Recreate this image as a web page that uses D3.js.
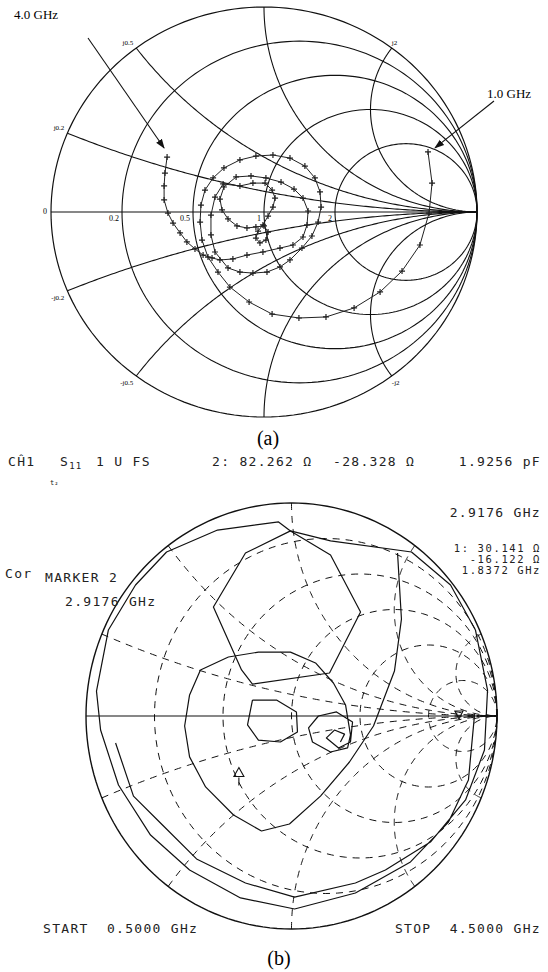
<!DOCTYPE html>
<html><head><meta charset="utf-8">
<script src="https://cdn.jsdelivr.net/npm/d3@7"></script>
<style>body{margin:0;background:#fff}svg{display:block}</style>
</head><body>
<script>
// ---------- (a) printed Smith chart ----------
const gridResA = [0.2, 0.5, 1, 2];
const gridReacA = [0.2, 0.5, 1, 2];
const resLabelsA = ["0.2", "0.5", "1", "2"];
const reacLabelsA = ["j0.2", "j0.5", "j2", "-j0.2", "-j0.5", "-j2"];
const reacLabelValsA = [0.2, 0.5, 2, -0.2, -0.5, -2];
// reflection coefficient, 1.0 GHz -> 4.0 GHz
const traceARe = [0.770,0.789,0.775,0.732,0.648,0.545,0.423,0.291,0.164,0.038,-0.070,-0.160,-0.216,-0.263,-0.291,-0.300,-0.296,-0.277,-0.239,-0.188,-0.113,-0.038,0.042,0.122,0.192,0.239,0.263,0.268,0.254,0.225,0.178,0.122,0.075,0.014,-0.052,-0.113,-0.169,-0.230,-0.249,-0.249,-0.230,-0.192,-0.113,-0.052,0.005,0.038,0.052,0.042,0.019,-0.005,-0.028,-0.038,-0.019,0.009,0.019,0.000,-0.038,-0.080,-0.127,-0.169,-0.197,-0.207,-0.188,-0.131,-0.061,0.009,0.080,0.141,0.183,0.207,0.202,0.183,0.136,0.075,-0.005,-0.080,-0.146,-0.207,-0.244,-0.286,-0.324,-0.362,-0.394,-0.427,-0.451,-0.469,-0.469,-0.465,-0.455];
const traceAIm = [0.293,0.141,-0.005,-0.161,-0.288,-0.390,-0.468,-0.512,-0.517,-0.498,-0.439,-0.366,-0.293,-0.220,-0.137,-0.049,0.034,0.107,0.166,0.215,0.254,0.273,0.278,0.263,0.224,0.166,0.098,0.024,-0.049,-0.117,-0.176,-0.234,-0.268,-0.293,-0.298,-0.293,-0.273,-0.195,-0.112,-0.015,0.073,0.137,0.127,0.141,0.141,0.107,0.068,0.024,-0.020,-0.063,-0.093,-0.127,-0.151,-0.137,-0.098,-0.068,-0.073,-0.078,-0.068,-0.034,0.010,0.063,0.122,0.171,0.176,0.166,0.146,0.112,0.068,0.005,-0.063,-0.122,-0.161,-0.176,-0.195,-0.210,-0.229,-0.234,-0.224,-0.210,-0.180,-0.146,-0.102,-0.054,-0.005,0.059,0.127,0.190,0.268];
const freqLabelsA = ["1.0 GHz", "4.0 GHz"];

// ---------- (b) analyzer display, 0.5 - 4.5 GHz ----------
const gridResB = [0.2, 0.5, 1, 2, 5];
const gridReacB = [0.2, 0.5, 1, 2, 5];
// outer laps near the rim
const lapBRe = [0.891,0.861,0.764,0.579,0.311,0.015,-0.248,-0.496,-0.686,-0.842,-0.929,-0.949,-0.891,-0.759,-0.608,-0.360,-0.063,-0.005,0.190,0.584,0.774,0.895,0.954,0.939,0.847,0.676,0.457,0.311,0.015,-0.224,-0.462,-0.618,-0.769,-0.856];
const lapBIm = [0.009,-0.300,-0.498,-0.685,-0.831,-0.906,-0.854,-0.723,-0.559,-0.324,-0.066,0.117,0.404,0.615,0.770,0.873,0.911,0.869,0.822,0.770,0.615,0.404,0.122,-0.160,-0.394,-0.592,-0.723,-0.784,-0.850,-0.784,-0.671,-0.521,-0.376,-0.127];
// loop hanging from the top vertex
const loopBRe = [-0.005,-0.224,-0.380,-0.243,-0.190,0.185,0.336,0.190,-0.005];
const loopBIm = [0.869,0.765,0.512,0.216,0.150,0.202,0.488,0.756,0.869];
// inner loops around the centre
const coreBRe = [0.516,0.535,0.501,0.399,0.282,0.141,-0.010,-0.146,-0.282,-0.418,-0.496,-0.520,-0.496,-0.443,-0.307,-0.161,-0.005,0.117,0.204,0.263,0.287,0.273,0.190,0.102,0.083,0.131,0.219,0.297,0.287,0.229,0.170,0.209,0.258,0.238];
const coreBIm = [0.765,0.455,0.211,-0.047,-0.216,-0.376,-0.507,-0.540,-0.465,-0.333,-0.192,-0.047,0.099,0.216,0.277,0.300,0.300,0.249,0.155,0.052,-0.089,-0.150,-0.169,-0.122,-0.056,0.000,0.019,-0.028,-0.122,-0.150,-0.103,-0.066,-0.085,-0.122];
const centreBRe = [-0.190,-0.073,0.024,0.029,-0.054,-0.161,-0.214,-0.190];
const centreBIm = [0.075,0.075,0.019,-0.075,-0.122,-0.113,-0.042,0.075];

const W = 548, H = 972;
const svg = d3.select("body").append("svg").attr("width", W).attr("height", H)
  .style("font-family", "'Liberation Serif', serif");

// impedance -> reflection coefficient
function gamma(r, x) {
  const den = (r + 1) * (r + 1) + x * x;
  return [(r * r + x * x - 1) / den, (2 * x) / den];
}
function resCircle(r) {
  const c = r / (1 + r), rad = 1 / (1 + r);
  return d3.range(0, 361, 2).map(a => [c + rad * Math.cos(a * Math.PI / 180), rad * Math.sin(a * Math.PI / 180)]);
}
function reacArc(x) {
  return d3.range(0, 90, 0.5).map(a => gamma(Math.tan(a * Math.PI / 180), x)).concat([[1, 0]]);
}

function smith(g, sx, sy, opt) {
  const line = d3.line().x(d => sx(d[0])).y(d => sy(d[1]));
  g.append("path").attr("d", line(resCircle(0))).attr("fill", "none")
    .attr("stroke", "#111").attr("stroke-width", opt.outerW);
  opt.res.forEach(r => g.append("path").attr("d", line(resCircle(r)))
    .attr("fill", "none").attr("stroke", "#111").attr("stroke-width", opt.w)
    .attr("stroke-dasharray", opt.dash));
  opt.reac.forEach(x => [x, -x].forEach(v => g.append("path").attr("d", line(reacArc(v)))
    .attr("fill", "none").attr("stroke", "#111").attr("stroke-width", opt.w)
    .attr("stroke-dasharray", opt.dash)));
  g.append("line").attr("x1", sx(-1)).attr("x2", sx(1)).attr("y1", sy(0)).attr("y2", sy(0))
    .attr("stroke", "#111").attr("stroke-width", opt.axisW);
  return line;
}

// ---- chart (a)
const sxA = d3.scaleLinear().domain([-1, 1]).range([51, 477]);
const syA = d3.scaleLinear().domain([-1, 1]).range([417, 7]);
const gA = svg.append("g");
const lineA = smith(gA, sxA, syA, {res: gridResA, reac: gridReacA, w: 1.1, outerW: 1.2, axisW: 1.1, dash: null});

gA.append("text").attr("x", sxA(-1) - 4).attr("y", syA(0) + 2).attr("text-anchor", "end")
  .attr("font-size", 8).text("0");
gridResA.forEach((r, i) => {
  gA.append("text").attr("x", sxA((r - 1) / (r + 1)) - 3).attr("y", syA(0) + 9)
    .attr("text-anchor", "end").attr("font-size", 8).text(resLabelsA[i]);
});
reacLabelValsA.forEach((x, i) => {
  const p = gamma(0, x);
  const left = p[0] < 0;
  gA.append("text").attr("x", sxA(p[0]) + (left ? -3 : 0))
    .attr("y", syA(p[1]) + (x > 0 ? -3 : 9))
    .attr("text-anchor", left ? "end" : "start").attr("font-size", 7).text(reacLabelsA[i]);
});

const ptsA = traceARe.map((v, i) => [v, traceAIm[i]]);
gA.append("path").attr("d", lineA(ptsA)).attr("fill", "none").attr("stroke", "#222").attr("stroke-width", 1);
gA.selectAll("path.mk").data(ptsA).join("path").attr("class", "mk")
  .attr("transform", d => `translate(${sxA(d[0])},${syA(d[1])})`)
  .attr("d", "M-3,0H3M0,-3V3").attr("stroke", "#222").attr("stroke-width", 1.2);

// frequency call-outs
svg.append("defs").append("marker").attr("id", "ah").attr("viewBox", "0 0 10 10")
  .attr("refX", 9).attr("refY", 5).attr("markerWidth", 9).attr("markerHeight", 9)
  .attr("orient", "auto").append("path").attr("d", "M0,1.5L10,5L0,8.5Z").attr("fill", "#111");
const p4 = ptsA[ptsA.length - 1], p1 = ptsA[0];
gA.append("line").attr("x1", 88).attr("y1", 38).attr("x2", sxA(p4[0]) - 3).attr("y2", syA(p4[1]) - 9)
  .attr("stroke", "#111").attr("stroke-width", 1.1).attr("marker-end", "url(#ah)");
gA.append("line").attr("x1", 494).attr("y1", 101).attr("x2", sxA(p1[0]) + 7).attr("y2", syA(p1[1]) - 4)
  .attr("stroke", "#111").attr("stroke-width", 1.1).attr("marker-end", "url(#ah)");
gA.append("text").attr("x", 14).attr("y", 19).attr("font-size", 13).text(freqLabelsA[1]);
gA.append("text").attr("x", 487).attr("y", 98).attr("font-size", 13).text(freqLabelsA[0]);
svg.append("text").attr("x", 268).attr("y", 445).attr("text-anchor", "middle").attr("font-size", 20).text("(a)");

// ---- chart (b)
const sxB = d3.scaleLinear().domain([-1, 1]).range([86, 497]);
const syB = d3.scaleLinear().domain([-1, 1]).range([929, 503]);
const gB = svg.append("g");
const lineB = smith(gB, sxB, syB, {res: gridResB, reac: gridReacB, w: 1, outerW: 1.4, axisW: 1.2, dash: "7,6"});
[[lapBRe, lapBIm], [loopBRe, loopBIm], [coreBRe, coreBIm], [centreBRe, centreBIm]].forEach(([re, im]) => {
  gB.append("path").attr("d", lineB(re.map((v, i) => [v, im[i]])))
    .attr("fill", "none").attr("stroke", "#111").attr("stroke-width", 1.2).attr("stroke-linejoin", "round");
});
// marker symbols: 1 on the inner loop, start at the right rim
const m1 = [centreBRe[5] - 0.095, -0.27];
gB.append("path").attr("transform", `translate(${sxB(m1[0])},${syB(m1[1])})`)
  .attr("d", "M0,-6L5,3H-5Z M0,4V12").attr("fill", "none").attr("stroke", "#111").attr("stroke-width", 1.1);
gB.append("path").attr("transform", `translate(${sxB(0.815)},${syB(0)})`)
  .attr("d", "M-4,-5H4L0,3Z").attr("fill", "none").attr("stroke", "#111").attr("stroke-width", 1.1);

const mono = "'DejaVu Sans Mono', monospace";
const nb = s => s.replace(/ /g, "\u00a0");
const tb = gB.append("g").style("font-family", mono)
  .attr("font-size", 13).attr("letter-spacing", 1.3).attr("fill", "#222");
tb.append("text").attr("x", 8).attr("y", 466).text("CĤ1");
tb.append("text").attr("x", 60).attr("y", 466).html('S<tspan font-size="9" dy="3">11</tspan>');
tb.append("text").attr("x", 96).attr("y", 466).text(nb("1 U FS"));
tb.append("text").attr("x", 212).attr("y", 466).text(nb("2: 82.262 Ω"));
tb.append("text").attr("x", 333).attr("y", 466).text(nb("-28.328 Ω"));
tb.append("text").attr("x", 541).attr("y", 466).attr("text-anchor", "end").text(nb("1.9256 pF"));
tb.append("text").attr("x", 50).attr("y", 485).attr("font-size", 7).attr("letter-spacing", 0).text("t₂");
tb.append("text").attr("x", 541).attr("y", 517).attr("text-anchor", "end").text(nb("2.9176 GHz"));
tb.append("text").attr("x", 5).attr("y", 578).text("Cor");
tb.append("text").attr("x", 45).attr("y", 582).text(nb("MARKER 2"));
tb.append("text").attr("x", 65).attr("y", 606).text(nb("2.9176 GHz"));
// marker 1 readout, tightly stacked
const m1Lines = ["1: 30.141 Ω", "-16.122 Ω", "1.8372 GHz"];
m1Lines.forEach((s, i) => tb.append("text").attr("x", 541).attr("y", 552 + i * 11)
  .attr("text-anchor", "end").attr("font-size", 10.5).attr("letter-spacing", 1.6).text(nb(s)));
tb.append("text").attr("x", 43).attr("y", 933).text(nb("START  0.5000 GHz"));
tb.append("text").attr("x", 541).attr("y", 933).attr("text-anchor", "end").text(nb("STOP  4.5000 GHz"));
svg.append("text").attr("x", 279).attr("y", 965).attr("text-anchor", "middle").attr("font-size", 20).text("(b)");
</script>
</body></html>
